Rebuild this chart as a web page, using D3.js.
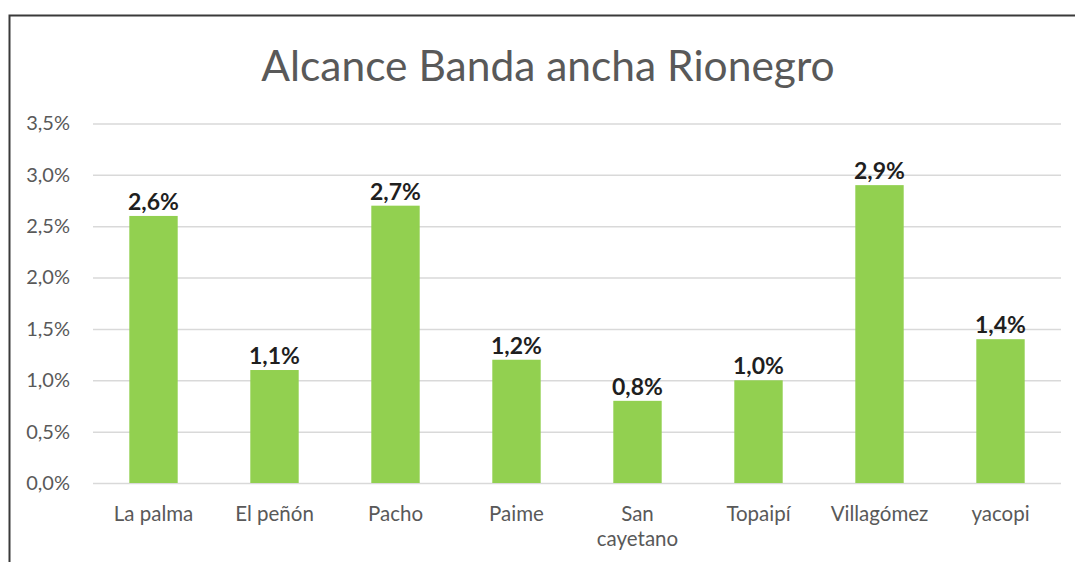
<!DOCTYPE html>
<html>
<head>
<meta charset="utf-8">
<script src="https://cdn.jsdelivr.net/npm/d3@7"></script>
<style>
  body { margin: 0; background: #fff; }
  svg { display: block; font-family: Lato, "Open Sans", sans-serif; }
</style>
</head>
<body>
<svg id="chart" width="1075" height="562"></svg>
<script>
// datos
const categories = ["La palma", "El peñón", "Pacho", "Paime", "San cayetano", "Topaipí", "Villagómez", "yacopi"];
const values = [0.026, 0.011, 0.027, 0.012, 0.008, 0.010, 0.029, 0.014];
const tickValues = [0, 0.005, 0.010, 0.015, 0.020, 0.025, 0.030, 0.035];

const fmt = v => d3.format(".1%")(v).replace(".", ",");

let svg = d3.select("#chart");

// marco del grafico (recortado a la derecha y abajo)
svg.append("path")
    .attr("d", "M9.5,562 L9.5,15.5 L1075,15.5")
    .attr("fill", "none")
    .attr("stroke", "#3a3a3a")
    .attr("stroke-width", 2);

let xScale = d3.scaleBand()
    .domain(categories)
    .range([93, 1061])
    .paddingInner(0.6)
    .paddingOuter(0.3);

let yScale = d3.scaleLinear()
    .domain([0, 0.035])
    .range([483, 123.5]);

// titulo
svg.append("text")
    .attr("x", 548)
    .attr("y", 81)
    .attr("text-anchor", "middle")
    .attr("fill", "#595959")
    .style("font-size", "42.5px")
    .text("Alcance Banda ancha Rionegro");

// eje y con lineas de cuadricula
let yAxis = d3.axisLeft(yScale)
    .tickValues(tickValues)
    .tickSize(-(1061 - 93))
    .tickPadding(23)
    .tickFormat(fmt);

let gy = svg.append("g")
    .attr("class", "y-axis")
    .attr("transform", "translate(93,0)")
    .call(yAxis);
gy.select(".domain").remove();
gy.selectAll(".tick line").attr("stroke", "#d9d9d9").attr("stroke-width", 1.5);
gy.selectAll(".tick text")
    .attr("fill", "#595959")
    .style("font-size", "20px")
    .style("font-family", "Lato, sans-serif");

// barras
svg.selectAll("rect.bar")
    .data(values)
    .enter()
    .append("rect")
    .attr("class", "bar")
    .attr("x", (d, i) => xScale(categories[i]))
    .attr("y", d => yScale(d))
    .attr("width", xScale.bandwidth())
    .attr("height", d => yScale(0) - yScale(d))
    .attr("fill", "#92d050");

// etiquetas de valor
svg.selectAll("text.val")
    .data(values)
    .enter()
    .append("text")
    .attr("class", "val")
    .attr("x", (d, i) => xScale(categories[i]) + xScale.bandwidth() / 2)
    .attr("y", d => yScale(d) - 6)
    .attr("text-anchor", "middle")
    .attr("fill", "#1f1f1f")
    .style("font-size", "23px")
    .style("font-weight", "bold")
    .text(fmt);

// etiquetas de categoria (con salto de linea)
let cat = svg.selectAll("text.cat")
    .data(categories)
    .enter()
    .append("text")
    .attr("class", "cat")
    .attr("x", d => xScale(d) + xScale.bandwidth() / 2)
    .attr("y", 521)
    .attr("text-anchor", "middle")
    .attr("fill", "#595959")
    .style("font-size", "20.5px");

cat.each(function(d) {
    let lines = d === "San cayetano" ? ["San", "cayetano"] : [d];
    let t = d3.select(this);
    lines.forEach((l, i) => {
        t.append("tspan")
            .attr("x", xScale(d) + xScale.bandwidth() / 2)
            .attr("dy", i === 0 ? 0 : 25)
            .text(l);
    });
});
</script>
</body>
</html>
